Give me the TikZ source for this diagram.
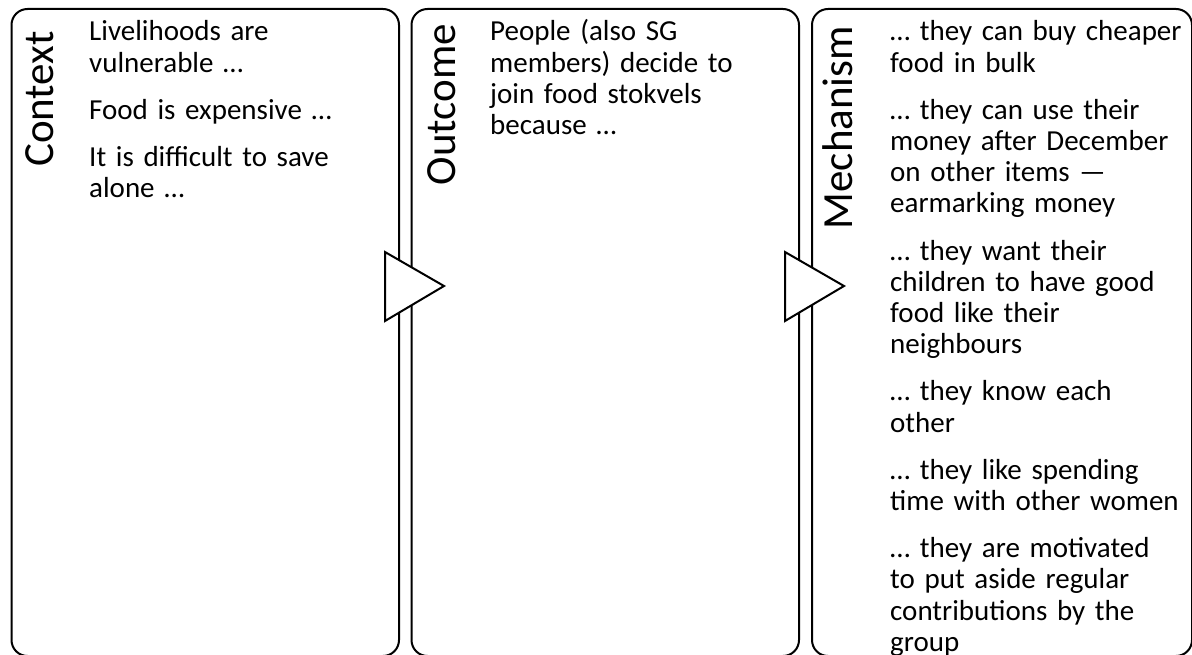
\documentclass[tikz,border=0pt]{standalone}
\usepackage{fontspec}
\setmainfont{Carlito}
\usetikzlibrary{calc}
\begin{document}
\begin{tikzpicture}[x=1pt,y=-1pt,
  panel/.style={draw=black, line width=2pt, rounded corners=16pt, inner sep=0pt,
                minimum height=647pt},
  heading/.style={rotate=90, anchor=base east, inner sep=0pt,
                  font=\fontsize{43}{48}\selectfont},
  body/.style={anchor=base west, text width=340pt, align=left, inner sep=0pt,
               font=\fontsize{29}{31.2}\selectfont},
  flowtri/.style={draw=black, fill=white, line width=2pt, line join=miter}]
\useasboundingbox (0,0) rectangle (1192,655);
\clip (0,0) rectangle (1192,655);

% three columns
\node[panel, minimum width=387.5pt] (ctx) at (205.25,332.5) {};
\node[panel, minimum width=387.5pt] (out) at (605.25,332.5) {};
\node[panel, minimum width=380pt]   (mech) at (1002,332.5) {};

% column headings, set sideways
\node[heading] (ctxhead)  at (53,31)  {Context};
\node[heading] (outhead)  at (455,24) {Outcome};
\node[heading] (mechhead) at (852,26) {Mechanism};

% column texts
\node[body] (ctxtext) at (89,41)
  {Livelihoods are\\vulnerable …\\[16pt]Food is expensive …\\[16pt]It is difficult to save\\alone …};
\node[body] (outtext) at (490,41)
  {People (also SG\\members) decide to\\join food stokvels\\because …};
\node[body] (mechtext) at (890,41)
  {… they can buy cheaper\\food in bulk\\[16pt]%
   … they can use their\\money after December\\on other items —\\earmarking money\\[16pt]%
   … they want their\\children to have good\\food like their\\neighbours\\[16pt]%
   … they know each\\other\\[16pt]%
   … they like spending\\time with other women\\[16pt]%
   … they are motivated\\to put aside regular\\contributions by the\\group};

% flow markers between the columns
\draw[flowtri] ($(ctx.east)+(-15,-80.5)$) -- ($(ctx.east)+(44,-46.5)$)
               -- ($(ctx.east)+(-15,-11.5)$) -- cycle;
\draw[flowtri] ($(out.east)+(-15,-80.5)$) -- ($(out.east)+(44,-46.5)$)
               -- ($(out.east)+(-15,-11.5)$) -- cycle;
\end{tikzpicture}
\end{document}
